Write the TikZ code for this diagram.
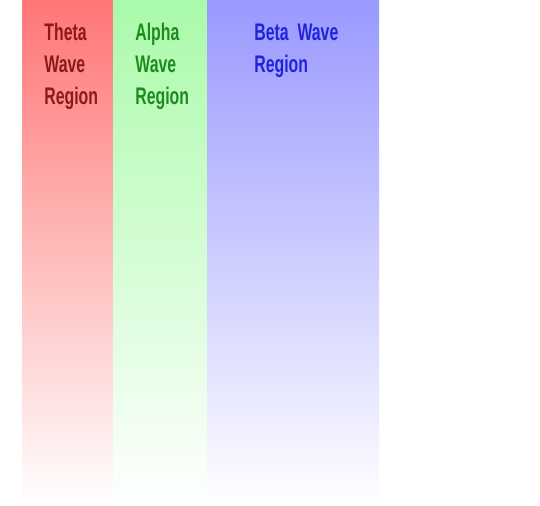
\documentclass[tikz,border=0pt]{standalone}
\usepackage{fontspec}
\usepackage{xcolor}
\newfontfamily\narrowsans[FakeStretch=0.66]{Liberation Sans}
\definecolor{thetaband}{HTML}{FF7676}
\definecolor{alphaband}{HTML}{AAFAAA}
\definecolor{betaband}{HTML}{9999FF}
\definecolor{thetatext}{HTML}{8B1A1A}
\definecolor{alphatext}{HTML}{1E8B1E}
\definecolor{betatext}{HTML}{2222DD}
\usetikzlibrary{positioning}

\begin{document}
\begin{tikzpicture}[
    x=0.5pt, y=-0.5pt,
    band/.style={bottom color=white, draw=none},
    region/.style={font={\narrowsans\bfseries\fontsize{12}{16}\selectfont}, align=left, anchor=base west, inner sep=0pt},
  ]
  \useasboundingbox (0,0) rectangle (540,506);
  % bands
  \shade[band, top color=thetaband] (22,0) rectangle (113,506);
  \shade[band, top color=alphaband] (113,0) rectangle (207,506);
  \shade[band, top color=betaband] (207,0) rectangle (379,506);
  % labels (base = last line)
  \node[region, text=thetatext] (theta) at (44,105) {Theta\\Wave\\Region};
  \node[region, text=alphatext] (alpha) at (135,105) {Alpha\\Wave\\Region};
  \node[region, text=betatext] (beta) at (254,73) {Beta\ \ Wave\\Region};
\end{tikzpicture}
\end{document}
